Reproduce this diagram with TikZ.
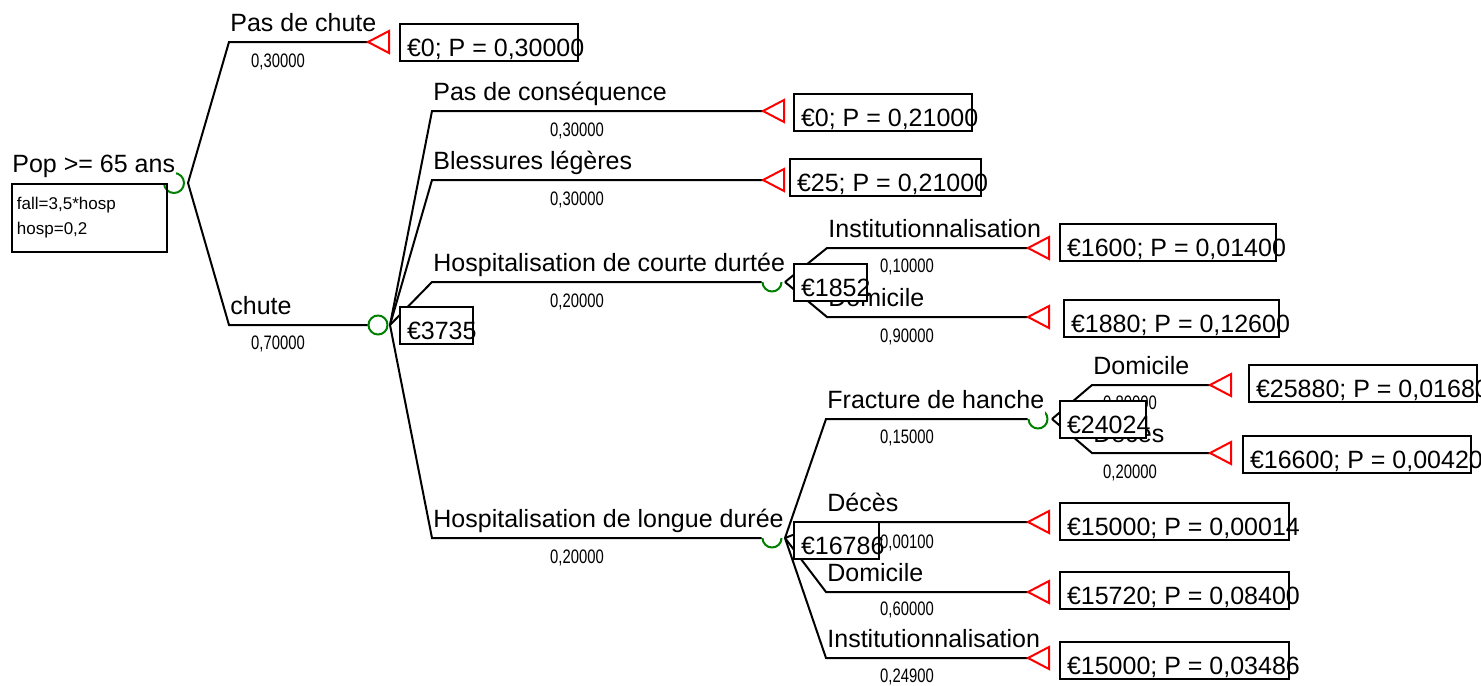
\documentclass[tikz,border=0pt]{standalone}
\usepackage{fontspec}
\setmainfont{Liberation Sans}
\usepackage{graphicx}
\definecolor{chance}{RGB}{0,128,0}
\definecolor{terminal}{RGB}{255,0,0}
\newlength{\pxu}\setlength{\pxu}{0.5pt}
\newcommand{\mainsize}{\fontsize{12.5pt}{15pt}\selectfont}
\newcommand{\probsize}{\fontsize{9.75pt}{11pt}\selectfont}
\newcommand{\paramsize}{\fontsize{8.5pt}{12.5pt}\selectfont}
\newcommand{\narrow}[1]{\scalebox{0.76}[1]{#1}}
\tikzset{
  branch/.style={line width=1pt},
  term/.style={draw=terminal, line width=1pt},
  chancenode/.style={circle, draw=chance, line width=1pt, minimum size=19\pxu, inner sep=0pt},
  lbl/.style={anchor=south west, fill=white, inner xsep=1\pxu, inner ysep=0pt, text depth=10\pxu, font=\mainsize},
  prob/.style={inner sep=0pt, font=\probsize},
  valbox/.style={draw, fill=white, line width=1pt, anchor=north west, inner xsep=7\pxu, inner ysep=0pt,
    text height=32\pxu, text depth=5\pxu, font=\mainsize},
}
\begin{document}
\begin{tikzpicture}[x=0.5pt, y=-0.5pt]
  \useasboundingbox (0,0) rectangle (1481,685);
  \clip (0,0) rectangle (1481,685);

  % chance nodes
  \node[chancenode, minimum size=20\pxu] (r0) at (174,183) {};
  \node[chancenode] (n1) at (378,325) {};
  \node[chancenode] (n2) at (772,282) {};
  \node[chancenode] (n3) at (772,538) {};
  \node[chancenode] (n4) at (1038,419) {};

  \coordinate (r0-out) at (188,183);
  \coordinate (n1-out) at (390,325);
  \coordinate (n2-out) at (785,282);
  \coordinate (n3-out) at (785,538);
  \coordinate (n4-out) at (1052,419);

  % elbows
  \coordinate (e1) at (229,42);
  \coordinate (e2) at (229,325);
  \coordinate (e3) at (432,111);
  \coordinate (e4) at (432,180);
  \coordinate (e5) at (432,282);
  \coordinate (e6) at (432,538);
  \coordinate (e7) at (827,248);
  \coordinate (e8) at (827,317);
  \coordinate (e9) at (826,419);
  \coordinate (e10) at (826,522);
  \coordinate (e11) at (826,592);
  \coordinate (e12) at (826,658);
  \coordinate (e13) at (1092,385);
  \coordinate (e14) at (1092,453);

  % terminal tips
  \coordinate (t-nochute) at (368,42);
  \coordinate (t-nocons) at (763,111);
  \coordinate (t-bless) at (763,180);
  \coordinate (t-inst1) at (1028,248);
  \coordinate (t-dom1) at (1028,317);
  \coordinate (t-dom2) at (1210,385);
  \coordinate (t-deces2) at (1210,453);
  \coordinate (t-deces3) at (1028,522);
  \coordinate (t-dom3) at (1028,592);
  \coordinate (t-inst3) at (1028,658);

  % branch labels
  \node[lbl] (l-root) at (11,183) {Pop >= 65 ans};
  \node[lbl] (l-nochute) at (e1) {Pas de chute};
  \node[lbl] (l-chute) at (e2) {chute};
  \node[lbl] (l-nocons) at (e3) {Pas de conséquence};
  \node[lbl] (l-bless) at (e4) {Blessures légères};
  \node[lbl] (l-courte) at (e5) {Hospitalisation de courte durtée};
  \node[lbl] (l-longue) at (e6) {Hospitalisation de longue durée};
  \node[lbl] (l-inst1) at (e7) {Institutionnalisation};
  \node[lbl] (l-dom1) at (e8) {Domicile};
  \node[lbl] (l-frac) at (e9) {Fracture de hanche};
  \node[lbl] (l-deces3) at (e10) {Décès};
  \node[lbl] (l-dom3) at (e11) {Domicile};
  \node[lbl] (l-inst3) at (e12) {Institutionnalisation};
  \node[lbl] (l-dom2) at (e13) {Domicile};
  \node[lbl] (l-deces2) at (e14) {Décès};

  % branches
  \draw[branch] (r0-out) -- (e1) -- (t-nochute);
  \draw[branch] (r0-out) -- (e2) -- (n1);
  \draw[branch] (n1-out) -- (e3) -- (t-nocons);
  \draw[branch] (n1-out) -- (e4) -- (t-bless);
  \draw[branch] (n1-out) -- (e5) -- (n2);
  \draw[branch] (n1-out) -- (e6) -- (n3);
  \draw[branch] (n2-out) -- (e7) -- (t-inst1);
  \draw[branch] (n2-out) -- (e8) -- (t-dom1);
  \draw[branch] (n3-out) -- (e9) -- (n4);
  \draw[branch] (n3-out) -- (e10) -- (t-deces3);
  \draw[branch] (n3-out) -- (e11) -- (t-dom3);
  \draw[branch] (n3-out) -- (e12) -- (t-inst3);
  \draw[branch] (n4-out) -- (e13) -- (t-dom2);
  \draw[branch] (n4-out) -- (e14) -- (t-deces2);

  \foreach \t in {t-nochute,t-nocons,t-bless,t-inst1,t-dom1,t-dom2,t-deces2,t-deces3,t-dom3,t-inst3}
    \draw[term] (\t) -- ++(21,-11) -- ++(0,22) -- cycle;

  % probabilities
  \node[prob] (p-nochute) at (278,62) {\narrow{0,30000}};
  \node[prob] (p-chute) at (278,344) {\narrow{0,70000}};
  \node[prob] (p-nocons) at (577,131) {\narrow{0,30000}};
  \node[prob] (p-bless) at (577,200) {\narrow{0,30000}};
  \node[prob] (p-courte) at (577,302) {\narrow{0,20000}};
  \node[prob] (p-longue) at (577,558) {\narrow{0,20000}};
  \node[prob] (p-inst1) at (907,267) {\narrow{0,10000}};
  \node[prob] (p-dom1) at (907,337) {\narrow{0,90000}};
  \node[prob] (p-frac) at (907,438) {\narrow{0,15000}};
  \node[prob] (p-deces3) at (907,543) {\narrow{0,00100}};
  \node[prob] (p-dom3) at (907,610) {\narrow{0,60000}};
  \node[prob] (p-inst3) at (907,677) {\narrow{0,24900}};
  \node[prob] (p-dom2) at (1130,404) {\narrow{0,80000}};
  \node[prob] (p-deces2) at (1130,473) {\narrow{0,20000}};

  % variables of the root
  \node[anchor=north west, draw, line width=1pt, minimum height=68\pxu, text width=145\pxu,
    inner xsep=5\pxu, align=left, font=\paramsize] (params) at (11,183) {fall=3,5*hosp\\hosp=0,2};

  % expected values
  \node[valbox] (v-chute) at (399,306) {\makebox[59\pxu][l]{€3735}};
  \node[valbox] (v-courte) at (793,263) {\makebox[59\pxu][l]{€1852}};
  \node[valbox] (v-longue) at (793,521) {\makebox[71\pxu][l]{€16786}};
  \node[valbox] (v-frac) at (1059,400) {\makebox[72\pxu][l]{€24024}};

  % payoffs
  \node[valbox] (b-nochute) at (399,23) {\makebox[164\pxu][l]{€0; P = 0,30000}};
  \node[valbox] (b-nocons) at (793,93) {\makebox[164\pxu][l]{€0; P = 0,21000}};
  \node[valbox] (b-bless) at (789,158) {\makebox[177\pxu][l]{€25; P = 0,21000}};
  \node[valbox] (b-inst1) at (1059,223) {\makebox[202\pxu][l]{€1600; P = 0,01400}};
  \node[valbox] (b-dom1) at (1063,299) {\makebox[201\pxu][l]{€1880; P = 0,12600}};
  \node[valbox] (b-dom2) at (1248,364) {\makebox[214\pxu][l]{€25880; P = 0,01680}};
  \node[valbox] (b-deces2) at (1242,435) {\makebox[214\pxu][l]{€16600; P = 0,00420}};
  \node[valbox] (b-deces3) at (1059,502) {\makebox[215\pxu][l]{€15000; P = 0,00014}};
  \node[valbox] (b-dom3) at (1059,571) {\makebox[215\pxu][l]{€15720; P = 0,08400}};
  \node[valbox] (b-inst3) at (1059,641) {\makebox[215\pxu][l]{€15000; P = 0,03486}};
\end{tikzpicture}
\end{document}
